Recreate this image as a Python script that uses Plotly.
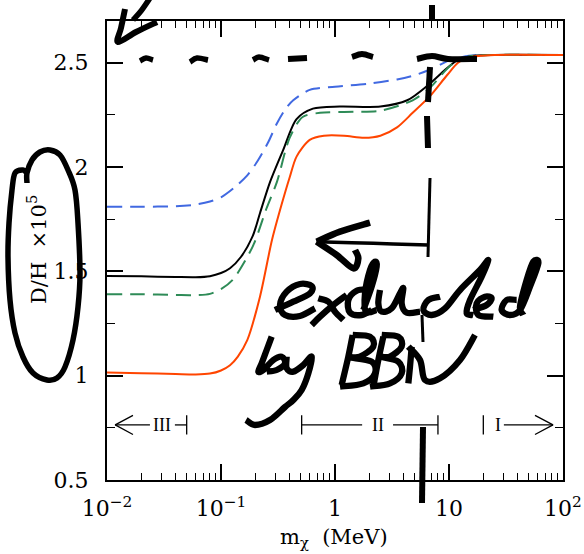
import math
import plotly.graph_objects as go

# ---------------- data ----------------
m_blue = [0.01, 0.02, 0.04, 0.06, 0.08, 0.1, 0.13, 0.17, 0.21, 0.26, 0.31, 0.37, 0.43, 0.6, 1, 2, 3.5, 5, 7, 10, 15, 25, 100]
dh_blue = [1.81, 1.81, 1.812, 1.82, 1.835, 1.855, 1.90, 1.96, 2.03, 2.12, 2.21, 2.28, 2.32, 2.37, 2.385, 2.40, 2.42, 2.44, 2.47, 2.51, 2.533, 2.537, 2.537]

m_black = [0.01, 0.02, 0.04, 0.06, 0.08, 0.1, 0.12, 0.15, 0.19, 0.22, 0.27, 0.35, 0.46, 0.64, 1.1, 2.5, 4.3, 6.8, 9, 11.7, 15, 25, 100]
dh_black = [1.478, 1.476, 1.473, 1.472, 1.477, 1.492, 1.515, 1.57, 1.67, 1.78, 1.93, 2.08, 2.23, 2.28, 2.29, 2.29, 2.32, 2.40, 2.46, 2.51, 2.53, 2.537, 2.537]

m_green = [0.01, 0.02, 0.04, 0.06, 0.08, 0.1, 0.127, 0.19, 0.25, 0.31, 0.40, 0.52, 0.74, 1.5, 2.5, 4.8, 6.8, 10.5, 15, 25, 100]
dh_green = [1.39, 1.39, 1.387, 1.386, 1.392, 1.415, 1.46, 1.62, 1.80, 1.93, 2.14, 2.24, 2.26, 2.265, 2.27, 2.32, 2.38, 2.49, 2.53, 2.537, 2.537]

m_orange = [0.01, 0.02, 0.04, 0.06, 0.08, 0.1, 0.12, 0.14, 0.17, 0.22, 0.28, 0.34, 0.40, 0.46, 0.6, 0.8, 1.2, 1.8, 2.5, 3.5, 4.8, 6.8, 9.6, 12, 15, 25, 100]
dh_orange = [1.015, 1.012, 1.008, 1.006, 1.01, 1.025, 1.05, 1.09, 1.17, 1.38, 1.65, 1.82, 1.95, 2.05, 2.13, 2.15, 2.15, 2.14, 2.15, 2.19, 2.26, 2.34, 2.44, 2.50, 2.525, 2.537, 2.537]

x_tickvals = [0.01, 0.1, 1, 10, 100]
x_ticktext = ["10<sup>−2</sup>", "10<sup>−1</sup>", "1", "10", "10<sup>2</sup>"]
y_tickvals = [0.5, 1, 1.5, 2, 2.5]
y_ticktext = ["0.5", "1", "1.5", "2", "2.5"]

# region markers (III, II, I)
region_y = 0.764
region_III = [0.0118, 0.05]
region_II = [0.51, 8.0]
region_I = [20, 81.7]

FONT = "DejaVu Serif"

fig = go.Figure()

def curve(m, dh, color, dash):
    fig.add_trace(go.Scatter(x=m, y=dh, mode="lines",
                             line=dict(color=color, width=2, dash=dash, shape="spline", smoothing=0.8),
                             hoverinfo="skip", showlegend=False))

curve(m_blue, dh_blue, "#4169E1", "15px,8px")
curve(m_black, dh_black, "black", "solid")
curve(m_green, dh_green, "#2E8B57", "15px,8px")
curve(m_orange, dh_orange, "#FF4500", "solid")

# region bars
def seg(xs, ys, w=1.3):
    fig.add_trace(go.Scatter(x=xs, y=ys, mode="lines", line=dict(color="black", width=w),
                             hoverinfo="skip", showlegend=False))

hw = 0.046
# III
seg([region_III[0], 0.0238], [region_y, region_y])
seg([0.0394, region_III[1]], [region_y, region_y])
seg([0.0169, region_III[0], 0.0169], [region_y + hw, region_y, region_y - hw])
seg([region_III[1], region_III[1]], [region_y - hw, region_y + hw])
# II
seg([region_II[0], 1.73], [region_y, region_y])
seg([3.23, region_II[1]], [region_y, region_y])
seg([region_II[0], region_II[0]], [region_y - hw, region_y + hw])
seg([region_II[1], region_II[1]], [region_y - hw, region_y + hw])
# I
seg([region_I[0], region_I[0]], [region_y - hw, region_y + hw])
seg([30.3, region_I[1]], [region_y, region_y])
seg([56.8, region_I[1], 56.8], [region_y + hw, region_y, region_y - hw])

annos = []
for txt, xv in [("III", 0.0303), ("II", 2.38), ("I", 27)]:
    annos.append(dict(x=math.log10(xv), y=region_y, xref="x", yref="y", text=txt, showarrow=False,
                      font=dict(family="Liberation Serif", size=18, color="black"),
                      xanchor="center", yanchor="middle"))

# ---------------- hand-drawn ink overlay ----------------
L, R, T, B = 107, 563, 21, 480
W, H = R - L, B - T

def P(px, py):
    return ((px - L) / W, (B - py) / H)

def smooth_path(pts):
    q = [P(*p) for p in pts]
    if len(q) == 2:
        return "M %.5f,%.5f L %.5f,%.5f" % (q[0][0], q[0][1], q[1][0], q[1][1])
    s = "M %.5f,%.5f" % q[0]
    n = len(q)
    for i in range(n - 1):
        p0 = q[i - 1] if i > 0 else q[i]
        p1 = q[i]
        p2 = q[i + 1]
        p3 = q[i + 2] if i + 2 < n else q[i + 1]
        c1 = (p1[0] + (p2[0] - p0[0]) / 6, p1[1] + (p2[1] - p0[1]) / 6)
        c2 = (p2[0] - (p3[0] - p1[0]) / 6, p2[1] - (p3[1] - p1[1]) / 6)
        s += " C %.5f,%.5f %.5f,%.5f %.5f,%.5f" % (c1[0], c1[1], c2[0], c2[1], p2[0], p2[1])
    return s

shapes = []

def ink(pts, w=6.3):
    shapes.append(dict(type="path", xref="paper", yref="paper", path=smooth_path(pts),
                       line=dict(color="black", width=w), layer="above"))

def z6(pts):
    return [(240 + x / 3, 200 + y / 3) for x, y in pts]

# top-left arrow
ink([(150, -2), (141, 11), (133, 20)], 5.5)
ink([(125, 9), (121, 28), (118, 42), (136, 32), (157, 22)], 6)

# dashed horizontal line near 2.5
ink([(140, 61), (146, 58), (153, 60)], 5.5)
ink([(190, 62), (197, 58), (208, 60)], 5.5)
ink([(253, 60), (259, 57), (269, 60)], 5.5)
ink([(288, 59), (307, 58)], 6)
ink([(352, 57), (362, 54), (373, 57)], 6)
ink([(417, 59), (432, 56), (448, 59), (477, 59)], 6)

# vertical dashed line
ink([(432, 5), (432, 21)], 6)
ink([(430, 67), (428, 102)], 6)
ink([(427, 116), (428, 148)], 6)
ink([(430, 178), (428, 257)], 3)
ink([(422, 315), (423, 342)], 3)
ink([(423, 427), (422, 503)], 6)

# arrow pointing left
ink(z6([(230, 125), (400, 130), (565, 135)]), 3.5)
ink(z6([(390, 68), (300, 95), (230, 125)]), 6.5)
ink(z6([(230, 125), (290, 165), (340, 205), (355, 175), (345, 150)]), 6.5)

# "excluded"
ink(z6([(105, 330), (160, 305), (210, 280), (215, 258), (180, 252), (140, 275), (120, 315), (135, 345), (180, 348), (225, 325)]))
ink(z6([(235, 295), (265, 305), (285, 335), (310, 360)]))
ink(z6([(320, 285), (280, 315), (240, 350), (215, 375)]))
ink(z6([(385, 268), (350, 272), (325, 300), (330, 338), (365, 345), (395, 330)]))
ink(z6([(370, 330), (395, 260), (410, 200), (405, 185), (390, 210), (375, 280), (378, 335), (410, 330)]))
ink(z6([(420, 270), (415, 310), (425, 335), (455, 325), (480, 280), (490, 265), (485, 310), (500, 338), (540, 335)]))
ink(z6([(600, 290), (565, 300), (550, 330), (575, 345), (615, 325), (660, 270), (720, 210), (745, 180), (725, 230), (690, 300), (680, 340), (700, 345)]))
ink(z6([(700, 330), (740, 315), (755, 295), (735, 290), (710, 310), (715, 345), (760, 350)]))
ink(z6([(830, 300), (800, 300), (785, 330), (810, 345), (840, 330), (870, 260), (895, 190), (880, 185), (860, 240), (840, 320), (850, 345)]))

# "by BBN"
ink(z6([(95, 410), (80, 450), (65, 490), (55, 515), (70, 510), (100, 480), (125, 470), (135, 490), (110, 510), (80, 515)]))
ink(z6([(140, 470), (140, 505), (160, 515), (190, 495), (215, 470), (205, 520), (185, 570), (160, 600)])
    + [(285, 407), (270, 420), (255, 425), (246, 420)])
ink(z6([(338, 405), (325, 470), (305, 555)]))
ink(z6([(338, 405), (390, 410), (400, 440), (360, 470), (330, 472), (395, 485), (405, 520), (370, 550), (300, 560)]))
ink(z6([(430, 410), (415, 480), (400, 560)]))
ink(z6([(425, 405), (475, 410), (485, 440), (450, 470), (420, 470), (475, 485), (485, 520), (450, 550), (390, 560)]))
ink(z6([(515, 440), (510, 500), (505, 550)]))
ink(z6([(505, 440), (540, 480), (555, 540), (600, 535), (660, 480), (705, 405)]))

# oval around y label
ink([(27, 183), (27, 173), (32, 160), (40, 152), (50, 150), (60, 155), (68, 170), (75, 190), (78, 223),
     (80, 273), (78, 307), (73, 340), (65, 367), (57, 378), (47, 380), (33, 373), (23, 357), (15, 333),
     (10, 300), (8, 257), (9, 223), (12, 190), (15, 173), (23, 170), (26, 172)], 5.5)

# axis titles as annotations
annos.append(dict(x=P(37, 250)[0], y=P(37, 250)[1], xref="paper", yref="paper",
                  text="D/H  ×10<sup>5</sup>", textangle=-90, showarrow=False,
                  font=dict(family=FONT, size=21, color="black"), xanchor="center", yanchor="middle"))
annos.append(dict(x=P(334, 538)[0], y=P(334, 538)[1], xref="paper", yref="paper",
                  text="m<sub>χ</sub>  (MeV)", showarrow=False,
                  font=dict(family=FONT, size=21, color="black"), xanchor="center", yanchor="middle"))

x_minor = [k * 10 ** e for e in (-2, -1, 0, 1) for k in range(2, 10)]
y_minor = [0.75, 1.25, 1.75, 2.25]

fig.update_layout(
    width=584, height=554,
    margin=dict(l=L, r=584 - R, t=T, b=554 - B, autoexpand=False),
    paper_bgcolor="white", plot_bgcolor="white",
    showlegend=False,
    shapes=shapes, annotations=annos,
    xaxis=dict(type="log", range=[-2, 2], tickmode="array", tickvals=x_tickvals, ticktext=x_ticktext,
               ticks="inside", ticklen=16, tickwidth=1.5, tickcolor="black",
               showline=True, linewidth=2, linecolor="black", mirror="allticks",
               showgrid=False, zeroline=False, automargin=False,
               tickfont=dict(family=FONT, size=22, color="black"), ticklabelstandoff=8,
               minor=dict(ticks="inside", ticklen=7, tickwidth=1.3, tickcolor="black",
                          tickmode="array", tickvals=x_minor, showgrid=False)),
    yaxis=dict(range=[0.5, 2.7], tickmode="array", tickvals=y_tickvals, ticktext=y_ticktext,
               ticks="inside", ticklen=16, tickwidth=1.5, tickcolor="black",
               showline=True, linewidth=2, linecolor="black", mirror="allticks",
               showgrid=False, zeroline=False, automargin=False,
               tickfont=dict(family=FONT, size=22, color="black"), ticklabelstandoff=12,
               minor=dict(ticks="inside", ticklen=8, tickwidth=1.3, tickcolor="black",
                          tickmode="array", tickvals=y_minor, showgrid=False)),
)

fig.write_html("out.html")
